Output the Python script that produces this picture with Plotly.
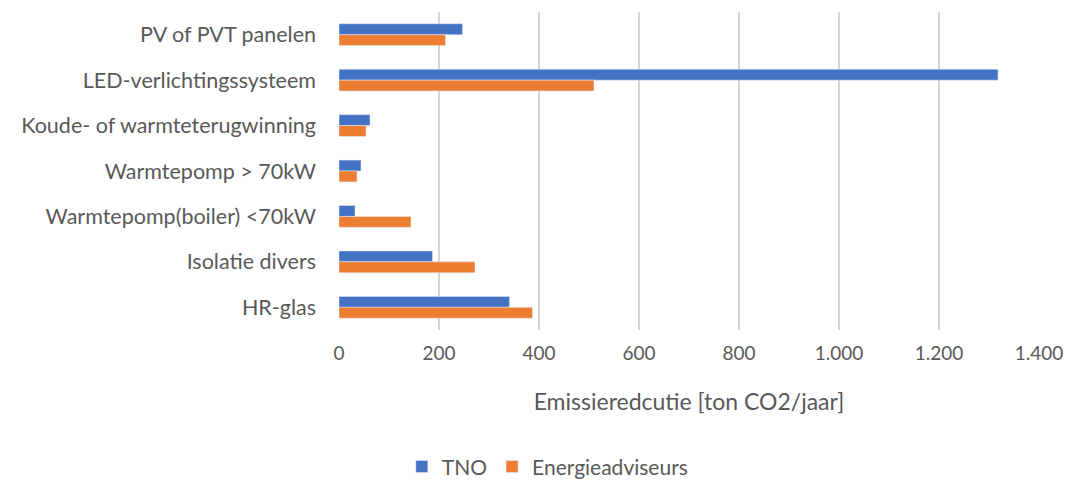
import plotly.graph_objects as go

categories = ["PV of PVT panelen", "LED-verlichtingssysteem", "Koude- of warmteterugwinning",
              "Warmtepomp > 70kW", "Warmtepomp(boiler) <70kW", "Isolatie divers", "HR-glas"]
tno = [247, 1318, 62, 44, 32, 187, 341]
energieadviseurs = [213, 510, 54, 36, 144, 272, 387]

font_family = "Lato, 'Open Sans', sans-serif"
text_color = "#595959"

fig = go.Figure()
fig.add_trace(go.Bar(y=categories, x=tno, orientation="h", name="TNO",
                     marker=dict(color="#4472C4")))
fig.add_trace(go.Bar(y=categories, x=energieadviseurs, orientation="h", name="Energieadviseurs",
                     marker=dict(color="#ED7D31")))

fig.update_layout(
    width=1068, height=473,
    barmode="group", bargap=0.52, bargroupgap=0,
    plot_bgcolor="white", paper_bgcolor="white",
    margin=dict(l=330.5, r=37, t=4, b=151, autoexpand=False),
    separators=",.",
    font=dict(family=font_family, size=20, color=text_color),
    showlegend=True,
    legend=dict(orientation="h", xref="container", yref="container",
                x=0.505, xanchor="center", y=0.03, yanchor="middle",
                font=dict(size=21, color=text_color)),
    xaxis=dict(range=[0, 1400], dtick=200, separatethousands=True,
               showgrid=True, gridcolor="#d4d4d4", gridwidth=1.5,
               zeroline=False, showline=False, ticks="", ticklabelstandoff=10,
               tickfont=dict(size=19, color=text_color),
               title=dict(text="Emissieredcutie [ton CO2/jaar]",
                          font=dict(size=23, color=text_color), standoff=30)),
    yaxis=dict(type="category", categoryorder="array", categoryarray=categories,
               autorange="reversed", showgrid=False, zeroline=False, showline=False,
               ticks="", ticklabelstandoff=22,
               tickfont=dict(size=21.5, color=text_color)),
)

fig.write_html("out.html")
